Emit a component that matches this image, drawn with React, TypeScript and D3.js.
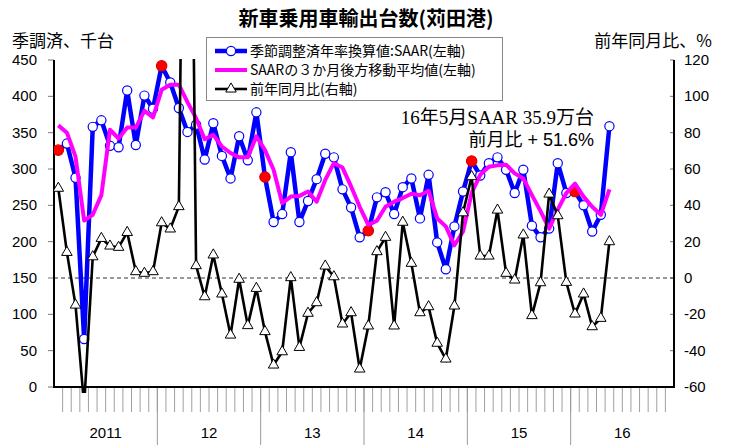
import React, { useEffect, useRef } from 'react';
import * as d3 from 'd3';

// Categories: Jan 2011 .. Dec 2016
const YEARS = ['2011', '12', '13', '14', '15', '16'];
const MONTHS = YEARS.flatMap(y => d3.range(1, 13).map(m => `${y}-${m}`));

// SAAR (thousand units, left axis), Jan 2011 .. May 2016
const SAAR = [
  326, 335, 288, 66, 358, 367, 332, 330, 408, 333, 401, 383,
  442, 419, 384, 351, 361, 313, 363, 318, 287, 345, 312, 378,
  289, 227, 238, 323, 227, 256, 286, 321, 316, 272, 247, 206,
  215, 261, 268, 238, 275, 287, 232, 292, 199, 162, 221, 269,
  311, 291, 308, 316, 299, 267, 299, 222, 206, 218, 308, 267,
  269, 250, 214, 237, 359,
];

// 3-month trailing moving average of SAAR (left axis)
const SAAR_MA3 = [
  360, 350, 317, 229, 237, 264, 354, 342, 357, 357, 380, 371,
  409, 416, 416, 392, 370, 341, 347, 331, 322, 316, 316, 345,
  326, 299, 253, 262, 263, 269, 255, 285, 308, 302, 276, 248,
  223, 229, 248, 255, 260, 266, 264, 270, 232, 221, 195, 214,
  267, 292, 303, 305, 306, 294, 287, 264, 242, 218, 244, 267,
  280, 262, 248, 237, 272,
];

// Year-on-year change, % (right axis)
const YOY = [
  49.4, 14.1, -14.9, -70, 11.7, 21.8, 17.6, 16.9, 25.1, 3.5, 2.6, 3.5,
  30.4, 27, 39.3, 450, 6.8, -10.3, 12.7, -8.8, -31.4, -0.7, -26.2, -5.7,
  -29.5, -47.9, -40.6, 0.2, -38.2, -19.4, -13.6, 6.6, 0.7, -25.3, -19.1, -50.1,
  -26.4, 14.5, 22.4, -26.4, 30.7, 8.1, -19.1, -15.8, -35.9, -44.6, -15.4, 35.9,
  55.8, 12.1, 12.1, 37.4, 2.6, -1.1, 23.7, -20.7, -2.6, 46.2, 34.3, -2.4,
  -19.8, -8.8, -26.8, -22.2, 20.0,
];

const LEFT_TICKS = d3.range(0, 451, 50);
const RIGHT_TICKS = d3.range(-60, 121, 20);

const LEGEND = [
  '季節調整済年率換算値:SAAR(左軸)',
  'SAARの３か月後方移動平均値(左軸)',
  '前年同月比(右軸)',
];

const BLUE = '#0000FF';
const MAGENTA = '#FF00FF';
const SANS = '"Liberation Sans", Arial, "Noto Sans CJK JP", sans-serif';
const CJK = '"Noto Sans CJK JP", "Liberation Sans", sans-serif';

const App: React.FC = () => {
  const svgRef = useRef<SVGSVGElement>(null);

  useEffect(() => {
    const width = 729;
    const height = 445;
    const svg = d3.select(svgRef.current).attr('width', width).attr('height', height);
    svg.selectAll('*').remove();

    const left = 54, right = 674, top = 60, bottom = 387;

    const x = d3.scaleBand<string>().domain(MONTHS).range([left, right]).padding(0);
    const cx = (i: number) => (x(MONTHS[i]) as number) + x.bandwidth() / 2;
    const yL = d3.scaleLinear().domain([0, 450]).range([bottom, top]);
    const yR = d3.scaleLinear().domain([-60, 120]).range([bottom, top]);

    svg.append('rect').attr('width', width).attr('height', height).attr('fill', '#fff');

    // Title
    svg.append('text')
      .attr('x', 366).attr('y', 26)
      .attr('text-anchor', 'middle')
      .attr('font-family', CJK).attr('font-size', 20).attr('font-weight', 'bold')
      .text('新車乗用車輸出台数(苅田港)');

    svg.append('text')
      .attr('x', 12).attr('y', 47)
      .attr('font-family', CJK).attr('font-size', 17)
      .text('季調済、千台');

    svg.append('text')
      .attr('x', 712).attr('y', 47)
      .attr('text-anchor', 'end')
      .attr('font-family', CJK).attr('font-size', 17)
      .text('前年同月比、%');

    // Month ticks below the plot
    svg.append('g')
      .selectAll('line')
      .data(MONTHS.slice(1))
      .join('line')
      .attr('x1', d => x(d) as number).attr('x2', d => x(d) as number)
      .attr('y1', bottom).attr('y2', bottom + 25)
      .attr('stroke', '#888').attr('stroke-width', 0.8);

    // Year dividers and labels
    const yearStarts = YEARS.map(y => x(`${y}-1`) as number);
    svg.append('g')
      .selectAll('line')
      .data(yearStarts.slice(1))
      .join('line')
      .attr('x1', d => d).attr('x2', d => d)
      .attr('y1', bottom).attr('y2', height)
      .attr('stroke', '#999').attr('stroke-width', 1);

    svg.append('g')
      .selectAll('text')
      .data(YEARS)
      .join('text')
      .attr('x', (d, i) => yearStarts[i] + x.bandwidth() * 6)
      .attr('y', 438)
      .attr('text-anchor', 'middle')
      .attr('font-family', SANS).attr('font-size', 15)
      .text(d => d);

    // Left axis
    const gL = svg.append('g');
    gL.selectAll('line')
      .data(LEFT_TICKS)
      .join('line')
      .attr('x1', left - 6).attr('x2', left)
      .attr('y1', d => yL(d)).attr('y2', d => yL(d))
      .attr('stroke', '#777');
    gL.selectAll('text')
      .data(LEFT_TICKS)
      .join('text')
      .attr('x', 37).attr('y', d => yL(d) + 5)
      .attr('text-anchor', 'end')
      .attr('font-family', SANS).attr('font-size', 15)
      .text(d => d);

    // Right axis
    const gR = svg.append('g');
    gR.selectAll('line')
      .data(RIGHT_TICKS)
      .join('line')
      .attr('x1', right - 4).attr('x2', right)
      .attr('y1', d => yR(d)).attr('y2', d => yR(d))
      .attr('stroke', '#777');
    gR.selectAll('text')
      .data(RIGHT_TICKS)
      .join('text')
      .attr('x', 684).attr('y', d => yR(d) + 5)
      .attr('font-family', SANS).attr('font-size', 15)
      .text(d => d);

    // Zero line for right axis
    svg.append('line')
      .attr('x1', left).attr('x2', right)
      .attr('y1', yR(0)).attr('y2', yR(0))
      .attr('stroke', '#333').attr('stroke-width', 1)
      .attr('stroke-dasharray', '4,3');

    // Axis frame
    svg.append('path')
      .attr('d', `M${left},${top}V${bottom}H${right}V${top}`)
      .attr('fill', 'none').attr('stroke', '#000').attr('stroke-width', 2);

    svg.append('clipPath').attr('id', 'plotClip')
      .append('rect')
      .attr('x', left).attr('y', top - 1)
      .attr('width', right - left).attr('height', bottom - top + 7);

    const plot = svg.append('g').attr('clip-path', 'url(#plotClip)');

    const lineL = d3.line<number>().x((d, i) => cx(i)).y(d => yL(d));
    const lineR = d3.line<number>().x((d, i) => cx(i)).y(d => yR(d));

    // SAAR
    plot.append('path')
      .datum(SAAR)
      .attr('d', lineL)
      .attr('fill', 'none').attr('stroke', BLUE).attr('stroke-width', 4.5)
      .attr('stroke-linejoin', 'round');
    plot.append('g')
      .selectAll('circle')
      .data(SAAR)
      .join('circle')
      .attr('cx', (d, i) => cx(i)).attr('cy', d => yL(d))
      .attr('r', (d, i) => (i % 12 === 0 ? 5.2 : 4.6))
      .attr('fill', (d, i) => (i % 12 === 0 ? '#FF0000' : '#fff'))
      .attr('stroke', (d, i) => (i % 12 === 0 ? '#E00000' : BLUE))
      .attr('stroke-width', 1.2);

    // Moving average
    plot.append('path')
      .datum(SAAR_MA3)
      .attr('d', lineL)
      .attr('fill', 'none').attr('stroke', MAGENTA).attr('stroke-width', 4)
      .attr('stroke-linejoin', 'round');

    // YoY
    plot.append('path')
      .datum(YOY)
      .attr('d', lineR)
      .attr('fill', 'none').attr('stroke', '#000').attr('stroke-width', 2.6)
      .attr('stroke-linejoin', 'miter');
    const tri = d3.symbol().type(d3.symbolTriangle).size(48);
    plot.append('g')
      .selectAll('path')
      .data(YOY)
      .join('path')
      .attr('transform', (d, i) => `translate(${cx(i)},${yR(d)})`)
      .attr('d', tri)
      .attr('fill', '#fff').attr('stroke', '#000').attr('stroke-width', 1);

    // Legend
    const lg = svg.append('g');
    lg.append('rect')
      .attr('x', 206.5).attr('y', 37.5).attr('width', 296).attr('height', 63)
      .attr('fill', '#fff').attr('stroke', '#888').attr('stroke-width', 1);
    const rows = [51, 70, 89];
    const colors = [BLUE, MAGENTA, '#000'];
    const widths = [4.5, 4, 2.6];
    LEGEND.forEach((label, i) => {
      lg.append('line')
        .attr('x1', 215).attr('x2', 247)
        .attr('y1', rows[i]).attr('y2', rows[i])
        .attr('stroke', colors[i]).attr('stroke-width', widths[i]);
      if (i === 0) {
        lg.append('circle').attr('cx', 231).attr('cy', rows[i]).attr('r', 4.6)
          .attr('fill', '#fff').attr('stroke', BLUE).attr('stroke-width', 1.2);
      }
      if (i === 2) {
        lg.append('path').attr('transform', `translate(231,${rows[i]})`).attr('d', tri)
          .attr('fill', '#fff').attr('stroke', '#000');
      }
      lg.append('text')
        .attr('x', 250).attr('y', rows[i] + 5)
        .attr('font-family', CJK).attr('font-size', 14)
        .text(label);
    });

    // Annotation
    svg.append('text')
      .attr('x', 594).attr('y', 124)
      .attr('text-anchor', 'end')
      .attr('font-family', '"Liberation Serif", "Times New Roman", "Noto Sans CJK JP", serif')
      .attr('font-size', 19)
      .text('16年5月SAAR 35.9万台');
    svg.append('text')
      .attr('x', 594).attr('y', 146)
      .attr('text-anchor', 'end')
      .attr('font-family', SANS)
      .attr('font-size', 18)
      .text('前月比 + 51.6%');
  }, []);

  return (
    <div style={{ position: 'absolute', left: 0, top: 0 }}>
      <svg ref={svgRef} style={{ display: 'block' }}></svg>
    </div>
  );
};

export default App;
